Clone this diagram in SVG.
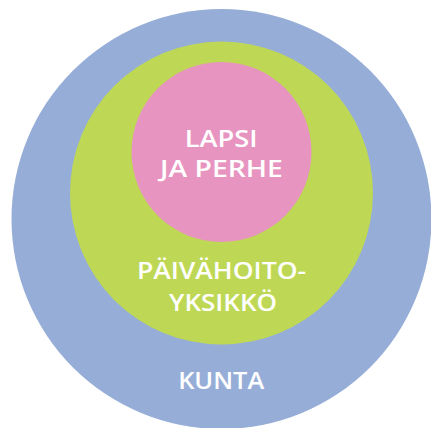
<svg xmlns="http://www.w3.org/2000/svg" width="431" height="428" viewBox="0 0 431 428">
<style>
.t{font-family:"Open Sans","Liberation Sans",sans-serif;font-weight:600;font-size:23px;fill:#ffffff;text-anchor:middle}
</style>
<rect width="431" height="428" fill="#ffffff"/>
<g id="kunta">
<circle cx="221.5" cy="219" r="210" fill="#96AED7"/>
<text class="t" x="221.2" y="389" textLength="86" lengthAdjust="spacingAndGlyphs">KUNTA</text>
</g>
<g id="paivahoitoyksikko">
<circle cx="221.5" cy="193" r="151.5" fill="#BED855"/>
<text class="t" x="221.5" y="279" textLength="169" lengthAdjust="spacingAndGlyphs">PÄIVÄHOITO-</text>
<text class="t" x="223" y="311" textLength="108" lengthAdjust="spacingAndGlyphs">YKSIKKÖ</text>
</g>
<g id="lapsi">
<circle cx="221.5" cy="152" r="90" fill="#E794C0"/>
<text class="t" x="221.2" y="146.5" textLength="73" lengthAdjust="spacingAndGlyphs">LAPSI</text>
<text class="t" x="221.4" y="177" textLength="123" lengthAdjust="spacingAndGlyphs">JA PERHE</text>
</g>
<g id="connectors"></g>
</svg>
